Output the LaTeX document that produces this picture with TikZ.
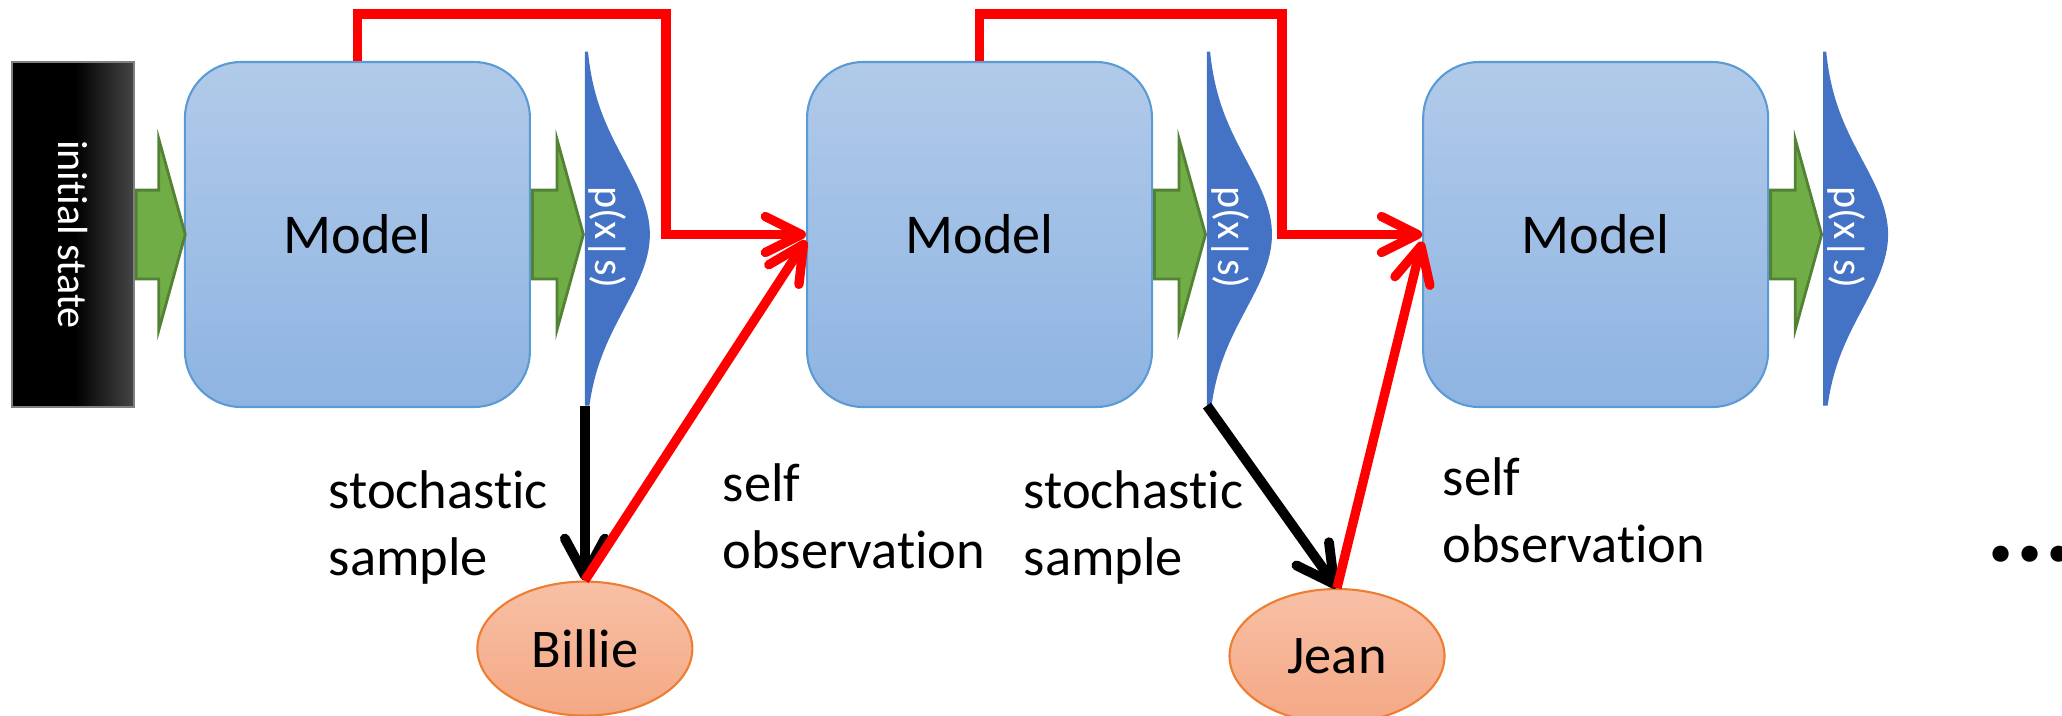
\documentclass[tikz,border=0pt]{standalone}
\usepackage{fontspec}
\setmainfont{Carlito}[Ligatures=NoCommon]
\usepackage{tikz}
\usetikzlibrary{positioning,shapes,arrows.meta}

\definecolor{modeltop}{RGB}{177,202,233}
\definecolor{modelbot}{RGB}{142,180,226}
\definecolor{modelline}{RGB}{91,155,213}
\definecolor{flowfill}{RGB}{112,173,71}
\definecolor{flowline}{RGB}{84,130,53}
\definecolor{bellblue}{RGB}{68,114,196}
\definecolor{persontop}{RGB}{248,192,166}
\definecolor{personbot}{RGB}{244,168,132}
\definecolor{personline}{RGB}{237,125,49}
\definecolor{initgray}{RGB}{70,70,70}
\pgfdeclarehorizontalshading{initshade}{100bp}{color(0bp)=(black); color(51bp)=(black); color(75bp)=(initgray); color(100bp)=(initgray)}

\begin{document}
\begin{tikzpicture}[
  model/.style={draw=modelline,line width=0.6pt,rounded corners=0.56cm,top color=modeltop,bottom color=modelbot,minimum width=3.45cm,minimum height=3.45cm,inner sep=0pt,font=\fontsize{16}{19}\selectfont},
  initbox/.style={draw=gray,line width=0.5pt,shading=initshade,minimum width=1.22cm,minimum height=3.45cm,inner sep=0pt,text=white,font=\fontsize{12}{14}\selectfont},
  flow/.style={single arrow,draw=flowline,fill=flowfill,line width=0.8pt,inner xsep=0pt,inner ysep=0.43cm,minimum height=0.51cm,single arrow head extend=0.51cm,single arrow tip angle=149},
  person/.style={ellipse,draw=personline,line width=0.6pt,top color=persontop,bottom color=personbot,minimum width=2.15cm,minimum height=1.34cm,inner sep=0pt,font=\fontsize{15.5}{19}\selectfont},
  dist/.style={rotate=-90,text=white,inner sep=0pt,font=\fontsize{12}{14}\selectfont},
  note/.style={align=left,inner sep=0pt,font=\fontsize{15.5}{19}\selectfont},
  feedback/.style={draw=red,line width=2.65pt,-{Straight Barb[round,length=3.6mm,width=3.6mm]}},
  sample/.style={draw=black,line width=2.8pt,-{Straight Barb[round,length=3.7mm,width=4mm]}},
]
\useasboundingbox (0,0) rectangle (20.62,-7.15);

\node[initbox] (init) at (0.73,-2.345) {\rotatebox{-90}{initial state}};
\node[model,right=0.49cm of init] (m1) {Model};
\node[model,right=2.75cm of m1] (m2) {Model};
\node[model,right=2.69cm of m2] (m3) {Model};

\node[flow,anchor=tail,minimum height=0.49cm] (o0) at (init.east) {};
\node[flow,anchor=tail] (o1) at (m1.east) {};
\node[flow,anchor=tail] (o2) at (m2.east) {};
\node[flow,anchor=tail] (o3) at (m3.east) {};

\foreach \i in {1,2,3}{
  \begin{scope}[shift={(o\i.tip)}]
    \fill[bellblue] (0,1.83) -- plot[domain=-1.83:1.71,samples=60,variable=\t] ({0.65*exp(-(\t*\t)/1.1)},{-\t}) -- (0,-1.71) -- cycle;
    \node[dist] (d\i) at (0.23,-0.03) {p(x|s)};
    \coordinate (b\i) at (0,-1.71);
  \end{scope}
}

\node[person,below=1.75cm of b1] (billie) {Billie};
\node[person] (jean) at (13.37,-6.56) {Jean};

\coordinate (c1) at (6.66,-0.14);
\coordinate (c2) at (12.82,-0.14);

\node[note,anchor=base west] (s1) at (3.28,-5.75) {stochastic\\sample};
\node[note,anchor=base west] (obs1) at (7.22,-5.68) {self\\observation};
\node[note,anchor=base west] (s2) at (10.23,-5.75) {stochastic\\sample};
\node[note,anchor=base west] (obs2) at (14.42,-5.62) {self\\observation};
\node[anchor=base west,inner sep=0pt,font=\fontsize{31}{36}\selectfont\bfseries] (more) at (19.86,-5.61) {...};

\path (b1) edge[sample] (billie.north)
      (b2) edge[sample] (jean.north)
      (billie.north) edge[feedback] ([yshift=-0.6mm]m2.west)
      (jean.north) edge[feedback] ([yshift=-0.7mm]m3.west);
\draw[feedback] (m1.north) |- (c1) |- (m2.west);
\draw[feedback] (m2.north) |- (c2) |- (m3.west);
\end{tikzpicture}
\end{document}
